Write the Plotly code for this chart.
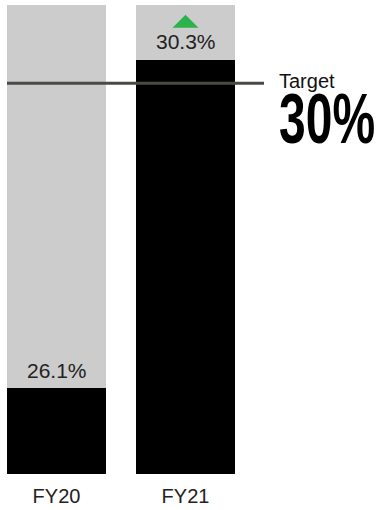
import plotly.graph_objects as go

# Margin ratio by fiscal year
categories = ["FY20", "FY21"]
values = [26.1, 30.3]
axis_min = 25.0
axis_max = 31.0
target = 30.0
target_label = "Target"
target_text = "30%"

x_pos = list(range(len(categories)))
BAR_W = 0.767
FONT = "Liberation Sans, Arial, Helvetica, sans-serif"

fig = go.Figure()

# Grey track behind each bar
fig.add_trace(go.Bar(
    x=x_pos, y=[axis_max] * len(categories), width=BAR_W,
    marker=dict(color="#cccccc", line=dict(width=0)),
    hoverinfo="skip", showlegend=False,
))
# Value bars
fig.add_trace(go.Bar(
    x=x_pos, y=values, width=BAR_W,
    marker=dict(color="#000000", line=dict(width=0)),
    showlegend=False,
))

# Value labels above each bar
for xi, v in zip(x_pos, values):
    fig.add_annotation(
        x=xi, y=v, text=f"{v:.1f}%", showarrow=False,
        yanchor="middle", yshift=18,
        font=dict(family=FONT, size=21, color="#222222"),
    )

# Green "up" marker over the latest bar when it beats the previous year
if values[-1] > values[-2]:
    fig.add_shape(
        type="path", xref="x", yref="y",
        xsizemode="pixel", ysizemode="pixel",
        xanchor=x_pos[-1], yanchor=values[-1],
        path="M -13 32 L 13 32 L 0 45 Z",
        fillcolor="#2cb24a", line=dict(width=0),
    )

# Target line
fig.add_shape(
    type="line", xref="paper", yref="y",
    x0=7 / 378, x1=264 / 378, y0=target, y1=target,
    line=dict(color="#4a4a45", width=3),
)
fig.add_annotation(
    xref="paper", yref="y", x=0.733, y=target, text=target_label,
    showarrow=False, xanchor="left", yanchor="middle", yshift=2,
    font=dict(family=FONT, size=20, color="#111111"),
)
# Large target figure, later stretched vertically for a condensed look
fig.add_annotation(
    xref="paper", yref="y", x=327 / 378, y=target, text=f"<b>{target_text}</b>",
    showarrow=False, xanchor="center", yanchor="middle", yshift=-36,
    font=dict(family=FONT, size=48, color="#000000"),
)

fig.update_layout(
    width=378, height=510,
    margin=dict(l=0, r=0, t=5, b=36),
    paper_bgcolor="white", plot_bgcolor="white",
    barmode="overlay", bargap=0,
    xaxis=dict(
        range=[-0.438, 2.492], tickvals=x_pos, ticktext=categories,
        showgrid=False, zeroline=False, showline=False, ticks="",
        ticklabelstandoff=8,
        tickfont=dict(family=FONT, size=20, color="#222222"),
        fixedrange=True,
    ),
    yaxis=dict(
        range=[axis_min, axis_max], visible=False, showgrid=False,
        zeroline=False, fixedrange=True,
    ),
)

# Stretch the big target figure vertically around its own centre
stretch_js = """
document.querySelectorAll('text.annotation-text').forEach(function (t) {
  if (t.textContent.trim() === '%s') {
    t.style.transformBox = 'fill-box';
    t.style.transformOrigin = 'center';
    t.style.transform = 'scaleY(1.45)';
  }
});
""" % target_text

fig.write_html("out.html", post_script=stretch_js)
